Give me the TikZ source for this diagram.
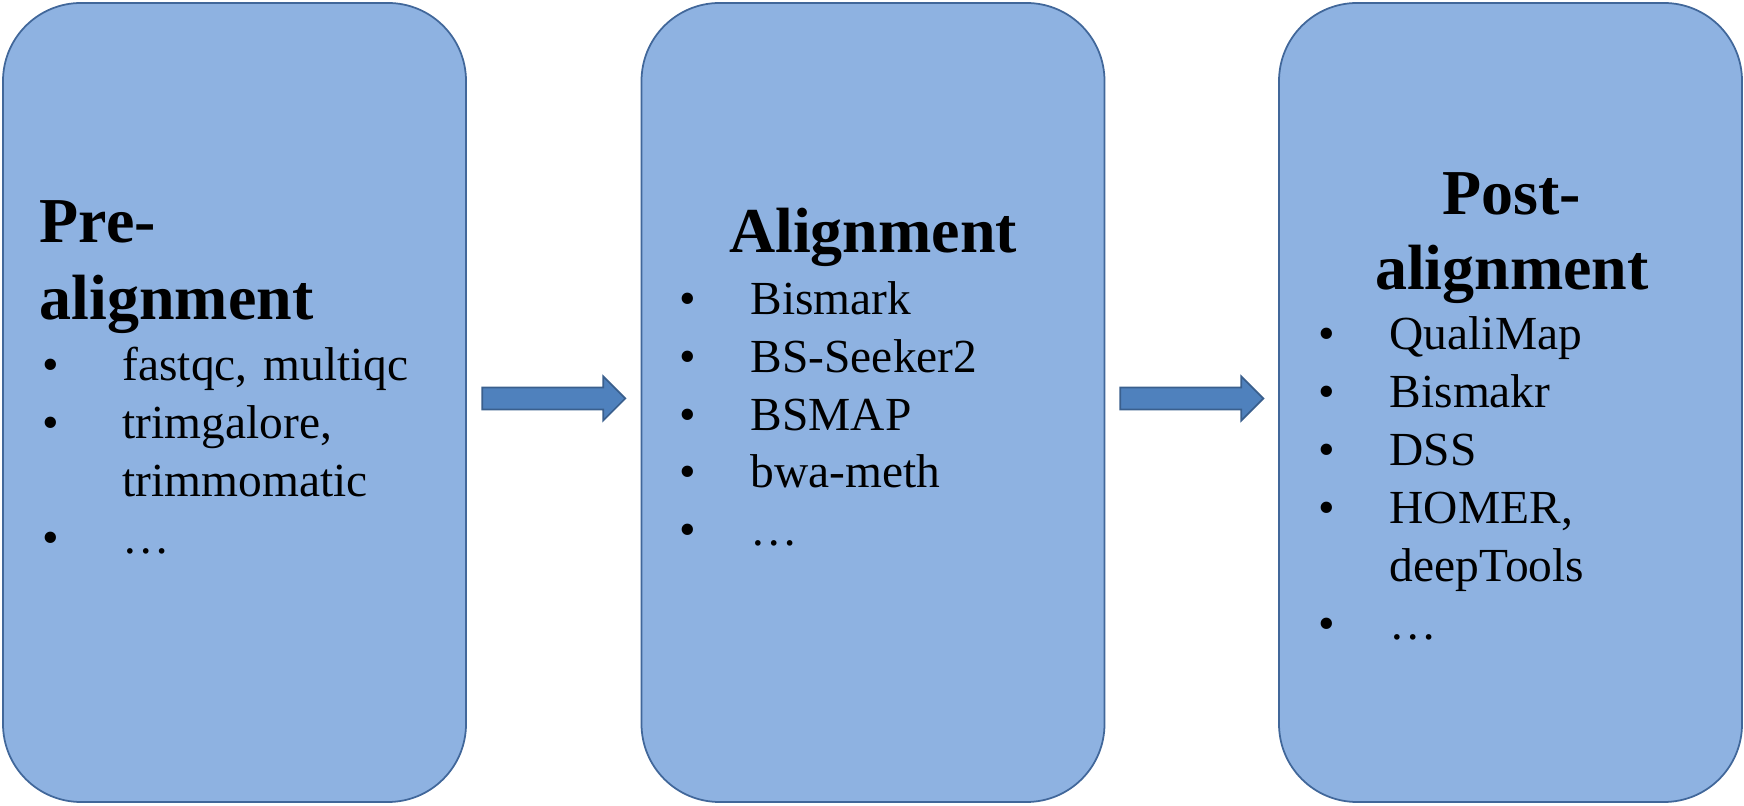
\documentclass[tikz,border=0pt]{standalone}
\usepackage{fontspec}
\setmainfont{Liberation Serif}
\usepackage{xcolor}
\usepackage{tikz}
\usetikzlibrary{calc}
\definecolor{stagefill}{HTML}{8EB2E1}
\definecolor{stageline}{HTML}{41679A}
\definecolor{arrowfill}{HTML}{4F81BD}
\definecolor{arrowline}{HTML}{3A5F8D}

\newcommand{\bul}[1]{\makebox[#1][l]{\textbullet}}
% block arrow between two stages: name, from, to
\newcommand{\flowarrow}[3]{%
\coordinate (#1) at ($(#2.east)!0.5!(#3.west)+(0,0.04)$);%
\draw[flow] ($(#1)+(-0.715,0.11)$) -- ++(1.21,0) -- ++(0,0.11) -- ++(0.22,-0.22) -- ++(-0.22,-0.22) -- ++(0,0.11) -- ++(-1.21,0) -- cycle;%
}

\begin{document}
\begin{tikzpicture}[
  stage/.style={draw=stageline, line width=0.5pt, fill=stagefill, rectangle, rounded corners=0.78cm, minimum width=4.63cm, minimum height=7.99cm},
  head/.style={font=\fontsize{18.2}{21.9}\selectfont\bfseries, inner sep=0, text width=4.4cm},
  items/.style={font=\fontsize{13.5}{16.4}\selectfont, inner sep=0, text width=4.2cm, align=left, anchor=base west},
  flow/.style={draw=arrowline, line width=0.5pt, fill=arrowfill, line join=miter}]%
\useasboundingbox (0,0) rectangle (17.44,8.06);%
\node[stage] (pre) at (2.345, 4.035) {};%
\node[stage] (align) at (8.73, 4.035) {};%
\node[stage] (post) at (15.105, 4.035) {};%
\node[head, align=left, anchor=base west] (prehead) at (0.39, 5.63) {Pre-\\alignment};%
\node[head, align=center, anchor=base] (alignhead) at (8.73, 5.53) {Alignment};%
\node[head, align=center, anchor=base, font=\fontsize{18.2}{21.3}\selectfont\bfseries] (posthead) at (15.12, 5.91) {Post-\\alignment};%
\node[items] (prelist) at (0.42, 4.25) {\bul{0.80cm}fastqc, multiqc\\\bul{0.80cm}trimgalore,\\\hspace*{0.80cm}trimmomatic\\\bul{0.80cm}…};%
\node[items] (alignlist) at (6.79, 4.91) {\bul{0.71cm}Bismark\\\bul{0.71cm}BS-Seeker2\\\bul{0.71cm}BSMAP\\\bul{0.71cm}bwa-meth\\\bul{0.71cm}…};%
\node[items, font=\fontsize{13.5}{16.5}\selectfont] (postlist) at (13.18, 4.56) {\bul{0.71cm}QualiMap\\\bul{0.71cm}Bismakr\\\bul{0.71cm}DSS\\\bul{0.71cm}HOMER,\\\hspace*{0.71cm}deepTools\\\bul{0.71cm}…};%
\flowarrow{a1}{pre}{align}%
\flowarrow{a2}{align}{post}%
\end{tikzpicture}
\end{document}
